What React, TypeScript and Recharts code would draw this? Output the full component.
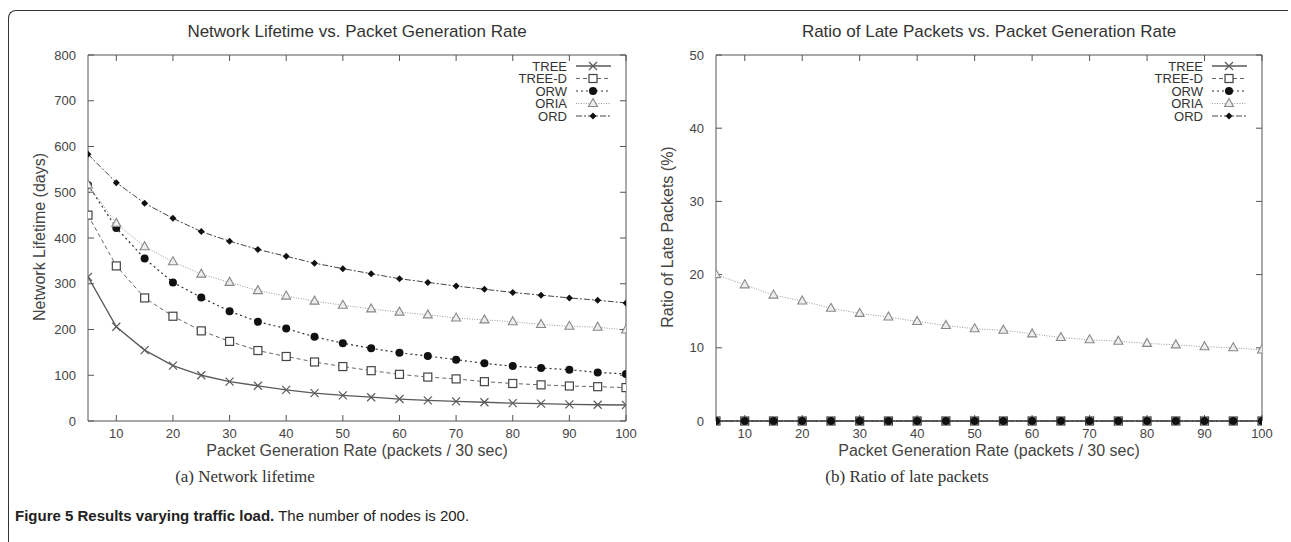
import { LineChart, Line, XAxis, YAxis, Legend } from 'recharts'

// packets / 30 sec
const rates = [5, 10, 15, 20, 25, 30, 35, 40, 45, 50, 55, 60, 65, 70, 75, 80, 85, 90, 95, 100]

// Network lifetime (days)
const lifeTree = [315, 206, 155, 121, 100, 86, 77, 68, 61, 56, 52, 48, 45, 43, 41, 39, 38, 36.5, 35.5, 35]
const lifeTreeD = [450, 339, 269, 229, 197, 174, 154, 141, 129, 119, 110, 102, 96, 92, 86, 82, 79, 76.5, 75, 73]
const lifeOrw = [516, 422, 355, 303, 270, 240, 217, 202, 184, 170, 159, 149, 142, 134, 126, 120, 116, 112, 106, 103]
const lifeOria = [516, 432, 381, 348, 321, 303, 285, 273, 262, 253, 245, 238, 232, 225, 221, 217, 211, 207, 205, 199]
const lifeOrd = [583, 521, 476, 443, 414, 393, 375, 360, 345, 333, 322, 311, 303, 295, 288, 281, 275, 269, 264, 258]

// Ratio of late packets (%)
const lateTree = [0, 0, 0, 0, 0, 0, 0, 0, 0, 0, 0, 0, 0, 0, 0, 0, 0, 0, 0, 0]
const lateTreeD = [0, 0, 0, 0, 0, 0, 0, 0, 0, 0, 0, 0, 0, 0, 0, 0, 0, 0, 0, 0]
const lateOrw = [0, 0, 0, 0, 0, 0, 0, 0, 0, 0, 0, 0, 0, 0, 0, 0, 0, 0, 0, 0]
const lateOria = [20.0, 18.6, 17.2, 16.4, 15.4, 14.7, 14.2, 13.6, 13.05, 12.6, 12.4, 11.9, 11.4, 11.1, 10.9, 10.6, 10.4, 10.15, 10.0, 9.7]
const lateOrd = [0, 0, 0, 0, 0, 0, 0, 0, 0, 0, 0, 0, 0, 0, 0, 0, 0, 0, 0, 0]

const xTicks = [10, 20, 30, 40, 50, 60, 70, 80, 90, 100]
const lifeTicks = [0, 100, 200, 300, 400, 500, 600, 700, 800]
const lateTicks = [0, 10, 20, 30, 40, 50]

const FONT = '"Liberation Sans", Arial, sans-serif'
const AXIS = '#555'
const TEXT = '#444'

type Style = { key: string; name: string; color: string; dash?: string; width: number; marker: string }

const series: Style[] = [
  { key: 'tree', name: 'TREE', color: '#5a5a5a', width: 1.3, marker: 'cross' },
  { key: 'treeD', name: 'TREE-D', color: '#666', dash: '4 3', width: 1, marker: 'square' },
  { key: 'orw', name: 'ORW', color: '#333', dash: '2 3', width: 1.2, marker: 'circle' },
  { key: 'oria', name: 'ORIA', color: '#999', dash: '1 1.5', width: 1, marker: 'triangle' },
  { key: 'ord', name: 'ORD', color: '#444', dash: '6 2 2 2', width: 1, marker: 'diamond' },
]

function drawMarker(kind: string, cx: number, cy: number, color: string, key?: any) {
  if (cx == null || cy == null) return <g key={key} />
  switch (kind) {
    case 'cross':
      return (
        <path key={key} d={`M${cx - 4},${cy - 4}L${cx + 4},${cy + 4}M${cx - 4},${cy + 4}L${cx + 4},${cy - 4}`}
          stroke={color} strokeWidth={1.2} fill="none" />
      )
    case 'square':
      return <rect key={key} x={cx - 4} y={cy - 4} width={8} height={8} stroke="#444" strokeWidth={1.2} fill="#fff" />
    case 'circle':
      return <circle key={key} cx={cx} cy={cy} r={4} fill="#111" />
    case 'triangle':
      return (
        <path key={key} d={`M${cx},${cy - 5}L${cx + 4.5},${cy + 3}L${cx - 4.5},${cy + 3}Z`}
          stroke="#888" strokeWidth={1.1} fill="#eee" />
      )
    default:
      return <path key={key} d={`M${cx},${cy - 3.5}L${cx + 3.5},${cy}L${cx},${cy + 3.5}L${cx - 3.5},${cy}Z`} fill="#111" />
  }
}

function buildRows(vals: number[][]) {
  return rates.map((x, i) => {
    const row: any = { x }
    series.forEach((s, j) => { row[s.key] = vals[j][i] })
    return row
  })
}

const lifeData = buildRows([lifeTree, lifeTreeD, lifeOrw, lifeOria, lifeOrd])
const lateData = buildRows([lateTree, lateTreeD, lateOrw, lateOria, lateOrd])

const NoLabel = () => <g />

const LegendBox = () => (
  <svg width={170} height={66} style={{ display: 'block', overflow: 'visible' }}>
    {series.map((s, i) => {
      const y = 8 + i * 12.5
      return (
        <g key={s.key}>
          <text x={110} y={y} dy="0.36em" textAnchor="end" fontSize={13} fill="#333" fontFamily={FONT}>{s.name}</text>
          <line x1={119} x2={154} y1={y} y2={y} stroke={s.color} strokeWidth={s.width} strokeDasharray={s.dash} />
          {drawMarker(s.marker, 136, y, s.color)}
        </g>
      )
    })}
  </svg>
)

function Panel({ data, yTicks, yMax, plotW, marginLeft, marginRight, legendLeft }: any) {
  const tickStyle = { fontSize: 13, fill: TEXT, fontFamily: FONT }
  return (
    <LineChart width={marginLeft + 40 + plotW + marginRight} height={470} data={data}
      margin={{ top: 55, right: marginRight, bottom: 19, left: marginLeft }}>
      {/* labelled axes */}
      <XAxis dataKey="x" type="number" domain={[5, 100]} ticks={xTicks} allowDataOverflow
        height={30} tickLine={false} tickMargin={2} axisLine={{ stroke: AXIS }} tick={tickStyle} />
      <YAxis type="number" domain={[0, yMax]} ticks={yTicks} width={40} tickLine={false} tickMargin={6}
        axisLine={{ stroke: AXIS }} tick={tickStyle} />
      {/* mirrored axes: inward tick marks and the box frame */}
      <XAxis xAxisId="bm" orientation="bottom" mirror dataKey="x" type="number" domain={[5, 100]} ticks={xTicks}
        tickSize={6} tickLine={{ stroke: AXIS }} axisLine={false} tick={NoLabel} />
      <XAxis xAxisId="top" orientation="top" mirror dataKey="x" type="number" domain={[5, 100]} ticks={xTicks}
        tickSize={6} tickLine={{ stroke: AXIS }} axisLine={{ stroke: AXIS }} tick={NoLabel} />
      <YAxis yAxisId="lm" orientation="left" mirror type="number" domain={[0, yMax]} ticks={yTicks}
        tickSize={6} tickLine={{ stroke: AXIS }} axisLine={false} tick={NoLabel} />
      <YAxis yAxisId="right" orientation="right" mirror type="number" domain={[0, yMax]} ticks={yTicks}
        tickSize={6} tickLine={{ stroke: AXIS }} axisLine={{ stroke: AXIS }} tick={NoLabel} />
      <Legend layout="horizontal" verticalAlign="middle" align="center" content={LegendBox}
        wrapperStyle={{ left: legendLeft, top: 58, width: 170, height: 66 }} />
      {/* invisible copies so that the frame axes get a scale */}
      <Line dataKey="tree" xAxisId="bm" yAxisId="lm" stroke="none" dot={false} activeDot={false}
        legendType="none" isAnimationActive={false} />
      <Line dataKey="tree" xAxisId="top" yAxisId="right" stroke="none" dot={false} activeDot={false}
        legendType="none" isAnimationActive={false} />
      {series.map(s => (
        <Line key={s.key} dataKey={s.key} name={s.name} type="linear" stroke={s.color}
          strokeWidth={s.width} strokeDasharray={s.dash}
          dot={(p: any) => drawMarker(s.marker, p.cx, p.cy, s.color, p.index)}
          activeDot={false} isAnimationActive={false} />
      ))}
    </LineChart>
  )
}

const abs = (left: number, top: number, extra: any = {}) => ({ position: 'absolute' as const, left, top, ...extra })

export default function App() {
  return (
    <div style={{ position: 'absolute', left: 0, top: 0, width: 1291, height: 542, background: '#fff', overflow: 'hidden' }}>
      <div style={abs(8, 10, { width: 1279, height: 540, borderTop: '1px solid #333', borderLeft: '1px solid #333', borderTopLeftRadius: 8 })} />

      <div style={abs(0, 0)}>
        <Panel data={lifeData} yTicks={lifeTicks} yMax={800} plotW={538} marginLeft={48} marginRight={34} legendLeft={457} />
      </div>
      <div style={abs(630, 0)}>
        <Panel data={lateData} yTicks={lateTicks} yMax={50} plotW={546} marginLeft={46} marginRight={29} legendLeft={463} />
      </div>

      {/* titles */}
      <div style={abs(57, 22, { width: 600, textAlign: 'center', font: `17px ${FONT}`, color: '#333' })}>
        Network Lifetime vs. Packet Generation Rate
      </div>
      <div style={abs(689, 22, { width: 600, textAlign: 'center', font: `17px ${FONT}`, color: '#333' })}>
        Ratio of Late Packets vs. Packet Generation Rate
      </div>

      {/* axis titles */}
      <div style={abs(57, 442, { width: 600, textAlign: 'center', font: `16px ${FONT}`, color: '#444' })}>
        Packet Generation Rate (packets / 30 sec)
      </div>
      <div style={abs(689, 442, { width: 600, textAlign: 'center', font: `16px ${FONT}`, color: '#444' })}>
        Packet Generation Rate (packets / 30 sec)
      </div>
      <div style={abs(40, 238, { width: 0, height: 0 })}>
        <div style={{ position: 'absolute', left: -150, top: -10, width: 300, textAlign: 'center', transform: 'rotate(-90deg)', font: `16px ${FONT}`, color: '#444' }}>
          Network Lifetime (days)
        </div>
      </div>
      <div style={abs(668, 238, { width: 0, height: 0 })}>
        <div style={{ position: 'absolute', left: -150, top: -10, width: 300, textAlign: 'center', transform: 'rotate(-90deg)', font: `16px ${FONT}`, color: '#444' }}>
          Ratio of Late Packets (%)
        </div>
      </div>

      {/* sub captions */}
      <div style={abs(145, 467, { width: 200, textAlign: 'center', font: '17px "Liberation Serif", serif', color: '#333' })}>
        (a) Network lifetime
      </div>
      <div style={abs(757, 467, { width: 300, textAlign: 'center', font: '17px "Liberation Serif", serif', color: '#333' })}>
        (b) Ratio of late packets
      </div>

      {/* figure caption */}
      <div style={abs(15, 507, { font: '15px "Liberation Sans Narrow", "Liberation Sans", sans-serif', color: '#222', whiteSpace: 'nowrap' })}>
        <b>Figure 5 Results varying traffic load.</b> The number of nodes is 200.
      </div>
    </div>
  )
}
